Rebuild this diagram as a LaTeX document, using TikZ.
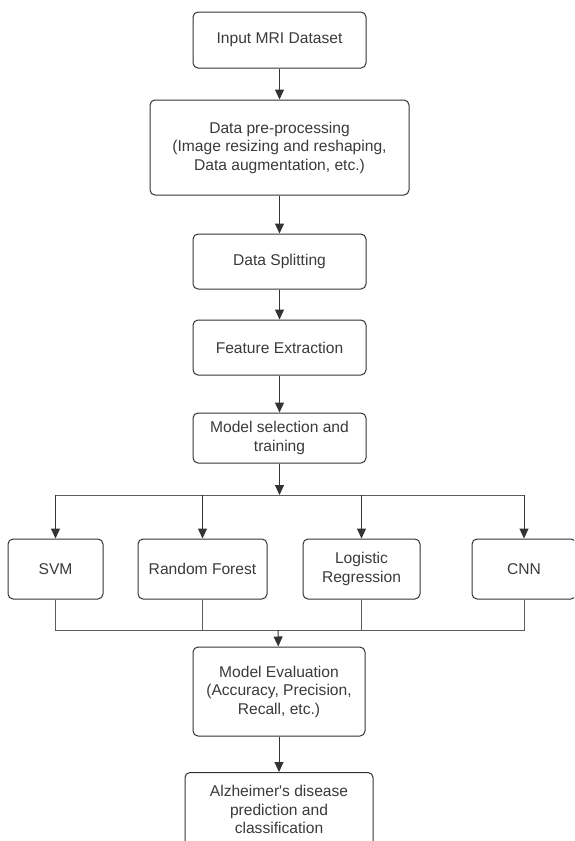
\documentclass[tikz,border=0pt]{standalone}
\usepackage{fontspec}
\setmainfont{Liberation Sans}
\usetikzlibrary{arrows.meta}
\definecolor{linegray}{HTML}{333333}
\definecolor{textgray}{HTML}{3A3A3A}
\begin{document}
\begin{tikzpicture}[x=1pt, y=-1pt,
  stepbox/.style={draw=linegray, line width=1pt, rounded corners=5pt, align=center,
    text=textgray, font=\fontsize{15.6}{18.5}\selectfont, inner sep=2pt},
  flow/.style={draw=linegray, line width=1pt, -{Triangle[width=9pt,length=10pt]}},
  branchline/.style={draw=linegray!80, line width=1pt}]
  \useasboundingbox (0,0) rectangle (574,841);
  \clip (0,0) rectangle (574,841);
  % main column
  \node (input) [stepbox, minimum width=173pt, minimum height=56pt] at (279.5,40) {Input MRI Dataset};
  \node (prep) [stepbox, minimum width=259pt, minimum height=95pt] at (279.5,147.5) {Data pre-processing\\(Image resizing and reshaping,\\Data augmentation, etc.)};
  \node (split) [stepbox, minimum width=173pt, minimum height=55pt] at (279.5,261.5) {Data Splitting};
  \node (feat) [stepbox, minimum width=173pt, minimum height=55pt] at (279.5,347.5) {Feature Extraction};
  \node (model) [stepbox, minimum width=173pt, minimum height=50pt] at (279.5,438) {Model selection and\\training};
  % classifiers
  \node (svm) [stepbox, minimum width=95pt, minimum height=60pt] at (55.5,569) {SVM};
  \node (rf) [stepbox, minimum width=129pt, minimum height=60pt] at (202.5,569) {Random Forest};
  \node (lr) [stepbox, minimum width=117pt, minimum height=60pt] at (361.5,569) {Logistic\\Regression};
  \node (cnn) [stepbox, minimum width=104pt, minimum height=60pt] at (524,569) {CNN};
  % evaluation and output
  \node (eval) [stepbox, minimum width=172pt, minimum height=89pt] at (279,691.5) {Model Evaluation\\(Accuracy, Precision,\\Recall, etc.)};
  \node (pred) [stepbox, minimum width=188pt, minimum height=74pt, anchor=north] at (279,772) {Alzheimer\textquotesingle s disease\\prediction and\\classification};
  \coordinate (fork) at (279.5,495);
  \coordinate (merge) at (278,630);
  \draw[flow] (input) -- (prep);
  \draw[flow] (prep) -- (split);
  \draw[flow] (split) -- (feat);
  \draw[flow] (feat) -- (model);
  \draw[flow] (model) -- (fork);
  \draw[branchline] (svm.north |- fork) -- (cnn.north |- fork);
  \draw[flow] (svm.north |- fork) -- (svm);
  \draw[flow] (rf.north |- fork) -- (rf);
  \draw[flow] (lr.north |- fork) -- (lr);
  \draw[flow] (cnn.north |- fork) -- (cnn);
  \draw[branchline] (svm) |- (merge);
  \draw[branchline] (cnn) |- (merge);
  \draw[branchline] (rf) |- (merge);
  \draw[branchline] (lr) |- (merge);
  \draw[flow] (merge) -- (eval);
  \draw[flow] (eval) -- (pred);
\end{tikzpicture}
\end{document}
